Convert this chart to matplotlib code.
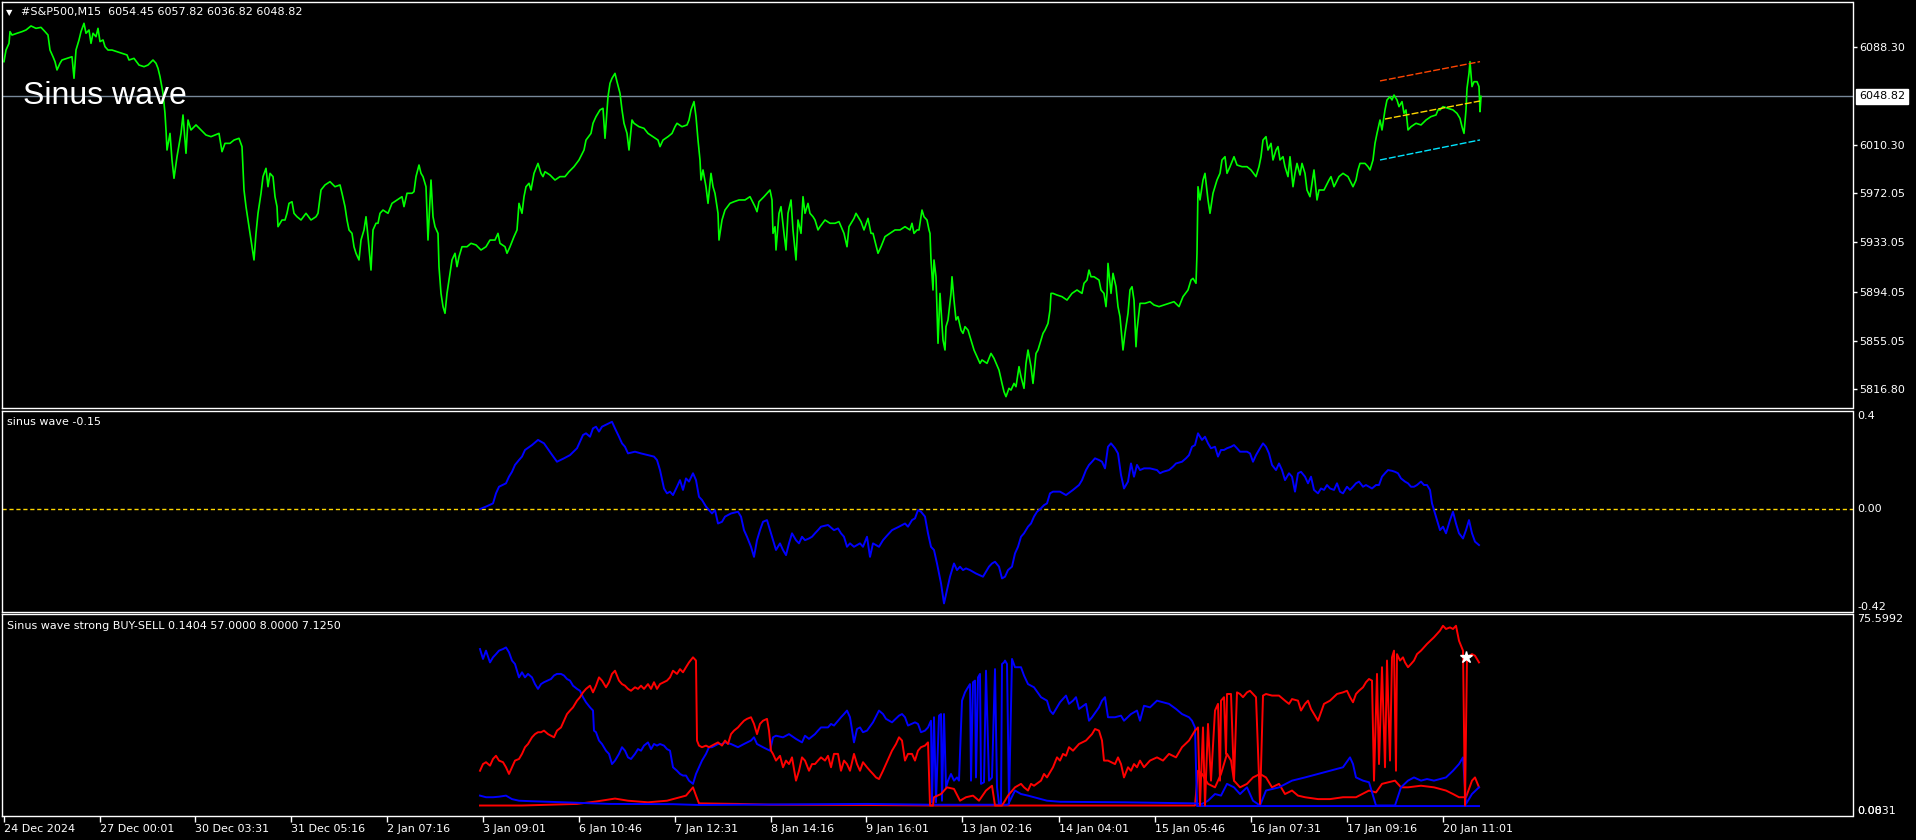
import matplotlib
matplotlib.use("Agg")
import matplotlib.pyplot as plt

W, H = 1916, 840

# ---- #S&P500 M15 closes: (bar, close), one bar per chart column ----
price_dec = [
    (4, 6076.4), (6, 6085.6), (9, 6090.9), (10, 6100.2), (12, 6097.5), (17, 6098.9), (22, 6100.2),
    (26, 6101.5), (31, 6104.7), (36, 6102.8), (41, 6103.6), (45, 6100.2), (48, 6097.5), (50, 6085.6),
    (53, 6080.3), (55, 6076.4), (57, 6069.8), (60, 6075.1), (62, 6077.7), (67, 6079.0), (72, 6080.3),
    (74, 6063.2), (76, 6085.6), (79, 6093.6), (81, 6100.2), (84, 6106.8), (86, 6098.9), (89, 6101.5),
    (91, 6090.9), (93, 6098.9), (96, 6096.2), (98, 6102.8), (100, 6092.3), (103, 6093.6), (105, 6088.3),
    (108, 6085.6), (112, 6085.6), (117, 6084.3), (122, 6083.0), (127, 6081.7), (129, 6077.7), (134, 6079.0),
    (139, 6073.7), (144, 6072.4), (148, 6073.7), (153, 6077.7), (156, 6075.1), (158, 6071.1), (160, 6064.5),
    (163, 6051.3), (165, 6035.4), (166, 6022.2), (167, 6006.3), (170, 6019.5), (172, 5998.4), (174, 5983.9),
    (177, 6001.0), (181, 6019.5), (183, 6034.1), (186, 6003.7), (188, 6030.1), (191, 6022.2), (196, 6026.2),
    (201, 6022.2), (206, 6018.2), (211, 6016.9), (215, 6018.2), (219, 6019.5), (222, 6005.0), (225, 6011.6),
    (230, 6011.6), (234, 6014.2), (239, 6015.6), (242, 6009.0), (244, 5974.6), (246, 5961.4), (249, 5945.5),
    (251, 5934.9), (254, 5919.1), (256, 5940.2), (258, 5956.1), (261, 5971.9), (263, 5985.2), (266, 5991.8),
    (268, 5977.2), (270, 5987.8), (273, 5985.2), (275, 5969.3), (277, 5961.4), (278, 5945.5), (282, 5950.8),
    (285, 5950.8), (287, 5956.1), (289, 5964.0), (292, 5965.3), (294, 5956.1), (297, 5953.4), (301, 5950.8),
    (306, 5956.1), (311, 5950.8), (316, 5953.4), (318, 5956.1), (321, 5974.6), (325, 5978.6), (330, 5981.2),
    (335, 5977.2), (340, 5978.6), (342, 5972.0), (345, 5961.4), (347, 5950.8), (349, 5942.9), (352, 5940.2),
    (354, 5929.6), (356, 5924.4), (359, 5919.1), (361, 5934.9), (364, 5942.9), (366, 5953.4), (368, 5937.6),
    (371, 5911.1), (373, 5942.9), (376, 5948.2), (378, 5948.2), (380, 5956.1), (383, 5958.7), (388, 5956.1),
    (392, 5964.0), (397, 5966.7), (402, 5969.3), (404, 5961.4), (407, 5972.0), (412, 5972.0), (414, 5973.3),
    (416, 5985.2), (419, 5994.4), (421, 5987.8), (423, 5985.2), (426, 5977.2), (428, 5934.9), (431, 5982.5),
    (433, 5953.4), (435, 5945.5), (438, 5940.2), (439, 5913.8), (441, 5892.6), (443, 5882.1), (445, 5876.8),
    (447, 5892.6), (450, 5908.5), (452, 5919.1), (455, 5924.4), (457, 5913.8), (459, 5921.7), (462, 5929.6),
    (467, 5929.6), (471, 5932.3), (476, 5931.0),
]
price_jan_a = [
    (481, 5927.0), (486, 5929.6), (490, 5934.9), (495, 5934.9), (498, 5940.2), (500, 5932.3), (505, 5929.6),
    (507, 5924.4), (510, 5929.6), (514, 5937.6), (517, 5942.9), (519, 5964.0), (522, 5956.1), (524, 5969.3),
    (526, 5977.2), (529, 5979.9), (531, 5974.6), (534, 5987.8), (536, 5991.8), (538, 5995.7), (541, 5987.8),
    (543, 5985.2), (545, 5989.1), (550, 5986.5), (555, 5982.5), (560, 5985.2), (565, 5985.2), (569, 5989.1),
    (574, 5993.1), (579, 5998.4), (584, 6006.3), (586, 6014.2), (591, 6019.5), (593, 6027.5), (596, 6032.8),
    (598, 6035.4), (600, 6038.1), (603, 6039.4), (605, 6015.6), (608, 6048.6), (610, 6059.2), (612, 6063.2),
    (615, 6067.1), (617, 6060.5), (620, 6051.3), (622, 6038.1), (624, 6027.5), (627, 6019.5), (629, 6006.3),
    (632, 6030.1), (634, 6027.5), (639, 6024.8), (644, 6023.5), (648, 6019.5), (653, 6016.9), (658, 6014.2),
    (660, 6009.0), (663, 6014.2), (668, 6016.9), (672, 6019.5), (675, 6024.8), (677, 6027.5), (682, 6024.8),
    (687, 6026.2), (689, 6030.1), (691, 6038.1), (694, 6044.7), (696, 6032.8), (698, 6014.2), (700, 5998.4),
    (701, 5982.5), (703, 5990.5), (706, 5977.2), (708, 5964.0), (711, 5987.8), (713, 5977.2), (715, 5971.9),
    (718, 5956.1), (719, 5934.9), (722, 5950.8), (725, 5958.7), (730, 5964.0), (734, 5965.3), (739, 5966.7),
    (745, 5966.7), (750, 5969.3), (755, 5961.4), (757, 5957.4), (759, 5965.3), (764, 5969.3), (767, 5972.0),
    (770, 5974.6), (772, 5966.7), (773, 5940.2), (775, 5945.5), (776, 5927.0), (779, 5956.1), (781, 5961.4),
    (784, 5940.2), (786, 5927.0), (788, 5956.1), (791, 5966.7), (793, 5942.9), (796, 5919.1), (798, 5950.8),
    (801, 5940.2), (803, 5969.3), (805, 5956.1), (808, 5964.0), (810, 5956.1), (813, 5953.4), (815, 5950.8),
    (818, 5942.9), (820, 5945.5), (825, 5950.8), (830, 5948.2), (835, 5948.2), (839, 5949.5), (844, 5940.2),
    (847, 5929.6), (849, 5945.5), (854, 5952.1), (856, 5956.1), (861, 5949.5), (864, 5942.9), (868, 5952.1),
    (871, 5940.2), (873, 5940.2), (878, 5924.4), (881, 5929.6), (885, 5937.6), (890, 5940.2), (895, 5942.9),
    (900, 5942.9), (905, 5945.5), (910, 5942.9), (912, 5948.2), (914, 5940.2), (917, 5942.9), (919, 5942.9),
    (922, 5958.7), (924, 5953.4), (927, 5950.8), (929, 5942.9), (930, 5940.2),
]
price_jan_b = [
    (931, 5919.1), (933, 5895.3), (934, 5919.1), (936, 5905.8), (938, 5853.0), (940, 5892.6), (943, 5855.6),
    (945, 5847.7), (946, 5866.2), (948, 5871.5), (951, 5892.6), (952, 5905.8), (954, 5887.3), (956, 5871.5),
    (958, 5874.1), (961, 5863.5), (963, 5860.9), (965, 5866.2), (968, 5863.5), (972, 5853.0), (974, 5847.7),
    (977, 5842.4), (980, 5837.1), (982, 5839.8), (987, 5837.1), (991, 5845.0), (994, 5841.1), (999, 5831.8),
    (1002, 5821.2), (1004, 5814.6), (1006, 5810.7), (1009, 5817.3), (1011, 5815.9), (1014, 5821.2),
    (1016, 5818.6), (1019, 5834.5), (1021, 5826.5), (1024, 5817.3), (1026, 5837.1), (1028, 5847.7),
    (1031, 5834.5), (1033, 5821.2), (1036, 5845.0), (1038, 5847.7), (1041, 5855.6), (1043, 5860.9),
    (1045, 5863.5), (1048, 5868.8), (1050, 5879.4), (1051, 5892.6), (1053, 5892.6), (1057, 5891.3),
    (1062, 5890.0), (1067, 5887.3), (1072, 5892.6), (1077, 5895.3), (1082, 5892.6), (1084, 5900.6),
    (1087, 5903.2), (1089, 5911.1), (1091, 5905.8), (1094, 5905.8), (1099, 5903.2), (1101, 5895.3),
    (1104, 5892.6), (1106, 5882.1), (1107, 5892.6), (1108, 5916.4), (1111, 5892.6), (1113, 5908.5),
    (1116, 5897.9), (1118, 5882.1), (1120, 5874.1), (1123, 5847.7), (1125, 5860.9), (1128, 5876.8),
    (1130, 5895.3), (1132, 5897.9), (1134, 5887.3), (1136, 5850.3), (1137, 5863.5), (1140, 5884.7),
    (1145, 5884.7), (1150, 5886.0), (1154, 5883.4), (1159, 5882.1), (1164, 5883.4), (1169, 5884.7),
    (1174, 5886.0), (1179, 5882.1), (1183, 5890.0), (1188, 5895.3), (1191, 5903.2), (1193, 5904.5),
    (1196, 5900.6), (1197, 5924.4),
]
price_jan_c = [
    (1198, 5977.2), (1200, 5966.7), (1203, 5982.5), (1205, 5987.8), (1208, 5966.7), (1210, 5956.1),
    (1213, 5972.0), (1217, 5982.5), (1220, 5987.8), (1222, 5998.4), (1225, 6001.0), (1227, 5987.8),
    (1230, 5993.1), (1234, 6001.0), (1237, 5994.4), (1242, 5993.1), (1247, 5993.1), (1251, 5990.5),
    (1256, 5985.2), (1259, 5993.1), (1261, 6001.0), (1263, 6014.2), (1266, 6016.9), (1268, 6006.3),
    (1271, 6011.6), (1273, 5998.4), (1276, 6006.3), (1278, 6009.0), (1280, 5998.4), (1283, 6001.0),
    (1285, 5993.1), (1288, 5985.2), (1290, 6001.0), (1293, 5977.2), (1295, 5987.8), (1297, 5995.7),
    (1300, 5986.5), (1302, 5995.7), (1305, 5987.8), (1307, 5974.6), (1310, 5969.3), (1312, 5979.9),
    (1314, 5990.5), (1317, 5966.7), (1319, 5974.6), (1324, 5974.6), (1329, 5982.5), (1331, 5985.2),
    (1334, 5977.2), (1339, 5985.2), (1343, 5987.8), (1348, 5985.2), (1353, 5977.2), (1356, 5982.5),
    (1358, 5990.5), (1360, 5995.7), (1365, 5995.7), (1368, 5993.1), (1370, 5990.5), (1373, 5998.4),
    (1375, 6011.6), (1377, 6019.5), (1380, 6030.1), (1382, 6022.2), (1385, 6038.1), (1387, 6046.0),
    (1390, 6048.6), (1392, 6046.0), (1394, 6049.9), (1397, 6046.0), (1399, 6040.7), (1402, 6044.7),
    (1404, 6035.4), (1406, 6038.1), (1408, 6022.2), (1411, 6024.8), (1416, 6027.5), (1421, 6026.2),
    (1426, 6030.1), (1431, 6032.8), (1436, 6034.1), (1438, 6038.1), (1440, 6038.1), (1443, 6040.7),
    (1448, 6039.4), (1453, 6038.1), (1457, 6035.4), (1460, 6031.4), (1462, 6024.8), (1464, 6019.5),
    (1466, 6038.1), (1467, 6055.2), (1469, 6067.1), (1470, 6076.4), (1472, 6056.6), (1474, 6060.5),
    (1477, 6060.5), (1479, 6056.6), (1480, 6036.7), (1481, 6048.8),
]

# regression channel on the last bars
channel_bars = [1380, 1480]
channel_upper = [6061.1, 6076.4]
channel_mid_bars = [1385, 1480]
channel_mid = [6030.9, 6045.2]
channel_lower = [5998.4, 6014.3]

current_price = 6048.82
price_ticks = [6088.30, 6010.30, 5972.05, 5933.05, 5894.05, 5855.05, 5816.80]
price_range = (5801.7, 6123.7)

# ---- "sinus wave" oscillator ----
sinus_a = [
    (480, 0.000), (486, 0.010), (493, 0.023), (496, 0.064), (499, 0.091), (506, 0.105), (509, 0.132),
    (512, 0.152), (515, 0.180), (519, 0.200), (522, 0.214), (525, 0.241), (532, 0.261), (538, 0.282),
    (544, 0.268), (551, 0.227), (557, 0.193), (564, 0.207), (570, 0.220), (577, 0.248), (580, 0.275),
    (583, 0.302), (586, 0.309), (590, 0.295), (593, 0.329), (596, 0.336), (599, 0.316), (602, 0.336),
    (609, 0.350), (612, 0.356), (615, 0.329), (619, 0.295), (622, 0.268), (625, 0.254), (628, 0.227),
    (635, 0.234), (641, 0.227), (648, 0.220), (654, 0.214), (657, 0.200), (660, 0.159), (664, 0.084),
    (667, 0.064), (670, 0.071), (673, 0.057), (677, 0.091), (680, 0.118), (683, 0.078), (686, 0.125),
    (689, 0.112), (693, 0.146), (696, 0.118), (699, 0.050), (702, 0.037), (706, 0.010), (709, -0.004),
    (712, -0.018), (715, -0.004), (718, -0.059), (722, -0.052), (725, -0.031), (731, -0.018), (738, -0.011),
    (741, -0.031), (744, -0.086), (747, -0.113), (751, -0.154), (754, -0.195), (757, -0.127), (760, -0.086),
    (763, -0.052), (767, -0.045), (770, -0.086), (773, -0.127), (776, -0.167), (780, -0.140), (783, -0.167),
    (786, -0.188), (789, -0.140), (792, -0.099), (796, -0.127), (799, -0.140), (802, -0.113), (805, -0.127),
    (809, -0.120), (812, -0.113), (815, -0.099), (818, -0.086), (821, -0.072), (828, -0.065), (834, -0.086),
    (838, -0.079), (841, -0.099), (844, -0.113), (847, -0.154), (850, -0.140), (854, -0.154), (860, -0.140),
    (863, -0.154), (867, -0.113), (870, -0.195), (873, -0.140), (879, -0.154), (883, -0.127), (886, -0.113),
    (892, -0.086), (899, -0.072), (905, -0.059), (908, -0.072), (912, -0.045), (915, -0.038), (918, -0.004),
    (921, -0.011), (925, -0.031), (928, -0.099),
]
sinus_b = [
    (931, -0.154), (934, -0.167), (937, -0.222), (941, -0.303), (944, -0.385), (947, -0.331), (950, -0.276),
    (954, -0.222), (957, -0.249), (960, -0.235), (963, -0.249), (966, -0.242), (970, -0.249), (976, -0.263),
    (983, -0.276), (989, -0.235), (992, -0.222), (995, -0.215), (999, -0.235), (1002, -0.283), (1005, -0.276),
    (1008, -0.249), (1012, -0.235), (1015, -0.181), (1018, -0.154), (1021, -0.113), (1024, -0.099),
    (1028, -0.072), (1031, -0.059), (1034, -0.031), (1037, -0.011), (1041, 0.003), (1044, 0.016),
    (1047, 0.023), (1050, 0.064), (1053, 0.071), (1060, 0.071), (1066, 0.057), (1073, 0.078), (1079, 0.098),
    (1082, 0.118), (1086, 0.159), (1089, 0.180), (1092, 0.193), (1095, 0.207), (1099, 0.200), (1102, 0.193),
    (1105, 0.166), (1108, 0.254), (1111, 0.268), (1115, 0.248), (1118, 0.227), (1121, 0.139), (1124, 0.084),
    (1128, 0.112), (1131, 0.186), (1134, 0.132), (1137, 0.180), (1140, 0.159), (1144, 0.166), (1150, 0.166),
    (1157, 0.159), (1160, 0.146), (1163, 0.152), (1169, 0.159), (1173, 0.173), (1176, 0.186), (1182, 0.193),
    (1186, 0.207), (1189, 0.220), (1192, 0.254), (1195, 0.261), (1198, 0.309), (1202, 0.282), (1205, 0.295),
    (1208, 0.268), (1211, 0.248), (1215, 0.254), (1218, 0.214), (1221, 0.241), (1224, 0.241), (1227, 0.248),
    (1231, 0.254), (1234, 0.261), (1237, 0.248), (1240, 0.234), (1247, 0.234), (1250, 0.227), (1253, 0.193),
    (1256, 0.220), (1260, 0.248), (1263, 0.268), (1266, 0.254), (1269, 0.227), (1272, 0.180), (1276, 0.159),
    (1279, 0.186), (1282, 0.159), (1285, 0.118), (1289, 0.146), (1292, 0.132), (1295, 0.071), (1298, 0.146),
    (1301, 0.152), (1305, 0.132), (1308, 0.105), (1311, 0.132), (1314, 0.078), (1318, 0.064), (1321, 0.084),
    (1324, 0.078), (1327, 0.098), (1330, 0.084), (1334, 0.078), (1337, 0.105), (1340, 0.071), (1343, 0.064),
    (1347, 0.091), (1350, 0.078), (1353, 0.091), (1356, 0.105), (1359, 0.112), (1363, 0.091), (1366, 0.098),
    (1369, 0.091), (1372, 0.084), (1376, 0.098), (1379, 0.098), (1382, 0.132), (1385, 0.146), (1388, 0.159),
    (1392, 0.156), (1395, 0.152), (1398, 0.146), (1401, 0.125), (1405, 0.112), (1408, 0.105), (1411, 0.091),
    (1414, 0.091), (1417, 0.098), (1421, 0.112), (1424, 0.098), (1427, 0.098), (1430, 0.078), (1432, 0.023),
    (1434, -0.004), (1437, -0.045), (1440, -0.086), (1443, -0.072), (1446, -0.099), (1450, -0.045),
    (1453, -0.011), (1456, -0.059), (1459, -0.099), (1463, -0.120), (1466, -0.086), (1469, -0.045),
    (1472, -0.099), (1475, -0.133), (1479, -0.147),
]
sinus_range = (-0.42, 0.4)

# ---- "Sinus wave strong BUY-SELL" buffers ----
bs_blue_hi = [
    (480, 62.5), (483, 58.8), (486, 61.9), (490, 57.5), (493, 59.4), (496, 60.6), (499, 61.9), (503, 62.5),
    (506, 63.1), (509, 61.3), (512, 58.2), (515, 56.9), (519, 51.9), (522, 53.8), (525, 51.9), (528, 53.2),
    (532, 51.9), (535, 49.4), (538, 47.6), (541, 49.4), (544, 50.1), (551, 51.3), (554, 52.6), (557, 53.2),
    (561, 53.2), (564, 52.6), (567, 51.3), (570, 50.7), (573, 48.8), (577, 47.6), (580, 46.9), (583, 44.5),
    (586, 42.6), (590, 40.7), (593, 39.5), (594, 32.0), (596, 31.4), (599, 28.3), (602, 27.0), (606, 24.5),
    (609, 23.3), (612, 19.5), (615, 20.8), (619, 23.3), (622, 25.8), (625, 24.5), (628, 22.0), (631, 21.4),
    (635, 23.3), (638, 25.1), (641, 24.5), (644, 26.4), (648, 27.6), (651, 25.1), (654, 27.0), (657, 26.4),
    (660, 27.0), (664, 26.4), (667, 25.1), (670, 24.5), (673, 18.3), (677, 17.0), (680, 15.8), (683, 15.2),
    (686, 15.2), (689, 13.3), (693, 12.1), (696, 15.8), (699, 18.3), (702, 20.8), (706, 23.3), (709, 25.8),
    (712, 25.8), (715, 26.4), (718, 27.0), (722, 27.0), (725, 27.6), (731, 27.0), (738, 25.8), (744, 27.0),
    (751, 28.3), (754, 29.5), (757, 27.0), (763, 25.8), (770, 24.5), (773, 29.5), (776, 30.1), (783, 29.5),
    (789, 30.7), (796, 28.9), (802, 27.6), (805, 30.1), (809, 28.9), (815, 30.7), (818, 32.0), (821, 33.2),
    (828, 33.2), (831, 34.5), (834, 33.9), (838, 35.7), (841, 37.0), (844, 38.2), (847, 39.5), (850, 37.0),
    (854, 27.6), (857, 32.6), (860, 33.2), (863, 31.4), (867, 32.0), (873, 35.1), (879, 39.5), (883, 38.2),
    (886, 36.4), (892, 35.1), (899, 37.6), (902, 38.2), (905, 37.0), (908, 33.9), (915, 35.1), (918, 34.5),
    (921, 31.4), (925, 32.0), (928, 33.2), (931, 35.7), (932, 5.2), (934, 37.0), (936, 5.2), (939, 37.6),
    (941, 38.2), (942, 5.8), (944, 38.2), (946, 10.8), (948, 13.3), (951, 15.8), (954, 13.3), (957, 14.5),
    (959, 13.3), (962, 43.2), (965, 46.3), (967, 47.6), (970, 49.4), (971, 13.3), (973, 50.1), (975, 50.7),
    (976, 14.5), (978, 51.9), (980, 53.2), (981, 12.1), (984, 12.7), (986, 54.4), (989, 13.3), (992, 14.5),
    (995, 55.0), (997, 10.8), (999, 4.6), (1001, 4.6), (1002, 56.9), (1004, 57.5), (1005, 58.2), (1007, 56.9),
    (1009, 4.6), (1012, 58.8), (1015, 55.7), (1021, 55.7), (1024, 52.6), (1028, 49.4), (1034, 48.2),
    (1041, 44.5), (1047, 43.2), (1050, 39.5), (1053, 38.2), (1060, 42.6), (1066, 45.1), (1069, 42.0),
    (1073, 43.2), (1076, 44.5), (1079, 40.1), (1086, 42.0), (1089, 35.7), (1092, 37.0), (1099, 40.7),
    (1102, 43.2), (1105, 44.5), (1108, 37.0), (1115, 37.0), (1121, 37.6), (1124, 35.7), (1131, 38.2),
    (1137, 39.5), (1140, 35.7), (1144, 41.3), (1150, 40.7), (1157, 43.2), (1163, 42.6), (1169, 42.0),
    (1176, 40.1), (1182, 38.2), (1189, 37.0), (1192, 35.7), (1195, 33.2), (1197, 3.8), (1479, 3.8),
]
bs_red_hi = [
    (480, 17.0), (483, 19.5), (486, 20.2), (490, 18.9), (493, 21.4), (496, 22.6), (499, 20.8), (503, 20.2),
    (506, 18.3), (509, 15.8), (512, 18.3), (515, 20.8), (519, 21.4), (522, 23.3), (525, 25.8), (528, 27.0),
    (532, 29.5), (535, 30.7), (538, 31.4), (541, 31.4), (544, 32.0), (548, 30.7), (551, 30.1), (554, 29.5),
    (557, 32.0), (561, 33.2), (564, 35.7), (567, 38.2), (570, 39.5), (573, 40.7), (577, 43.2), (580, 44.5),
    (583, 46.3), (586, 47.6), (590, 48.8), (593, 46.3), (596, 48.8), (599, 51.9), (602, 50.7), (606, 48.2),
    (609, 50.1), (612, 53.2), (615, 54.4), (619, 50.7), (622, 49.4), (625, 48.8), (628, 47.6), (631, 46.9),
    (635, 48.2), (638, 47.6), (641, 48.8), (644, 47.6), (648, 49.4), (651, 47.6), (654, 50.1), (657, 47.6),
    (660, 49.4), (667, 50.7), (670, 51.9), (673, 54.4), (677, 53.2), (680, 55.0), (683, 53.8), (686, 55.7),
    (689, 57.5), (693, 59.4), (696, 58.2), (697, 28.3), (699, 26.4), (702, 25.8), (706, 26.4), (709, 25.8),
    (712, 26.4), (715, 27.0), (718, 27.6), (722, 26.4), (725, 28.3), (728, 27.0), (731, 30.7), (734, 32.0),
    (738, 33.2), (741, 34.5), (744, 35.7), (747, 36.4), (751, 37.0), (754, 34.5), (757, 30.7), (760, 34.5),
    (763, 35.7), (767, 36.4), (769, 32.0), (771, 24.5), (773, 23.3), (776, 20.8), (780, 22.6), (783, 18.3),
    (786, 20.8), (789, 19.5), (792, 22.0), (796, 13.3), (799, 17.0), (802, 22.0), (805, 20.8), (809, 17.0),
    (812, 19.5), (815, 19.5), (818, 20.8), (821, 22.0), (825, 20.8), (828, 22.6), (831, 18.3), (834, 23.3),
    (838, 23.3), (841, 17.0), (844, 20.8), (847, 19.5), (850, 17.0), (854, 23.3), (857, 19.5), (860, 17.0),
    (863, 20.2), (867, 18.3), (870, 17.0), (873, 15.8), (876, 14.5), (879, 13.9), (883, 17.0), (886, 19.5),
    (889, 22.0), (892, 24.5), (896, 27.0), (899, 29.5), (902, 28.3), (905, 20.8), (908, 23.3), (912, 23.3),
    (915, 20.8), (918, 24.5), (921, 25.8), (925, 26.4), (928, 27.6), (930, 4.0), (933, 4.0), (934, 7.1),
    (941, 8.3), (947, 10.8), (954, 10.2), (960, 5.8), (966, 7.1), (973, 7.7), (979, 5.8), (986, 9.6),
    (992, 11.4), (995, 4.0), (1002, 4.0), (1005, 5.8), (1008, 7.7), (1015, 10.8), (1021, 12.1), (1024, 10.8),
    (1028, 9.6), (1031, 12.1), (1034, 11.4), (1041, 13.3), (1044, 15.8), (1047, 14.5), (1053, 18.3),
    (1057, 22.0), (1060, 20.8), (1063, 23.3), (1066, 22.6), (1069, 25.8), (1073, 24.5), (1079, 27.0),
    (1086, 28.3), (1089, 29.5), (1092, 30.7), (1095, 32.6), (1099, 32.0), (1102, 28.3), (1104, 20.8),
    (1108, 20.8), (1115, 19.5), (1118, 22.0), (1121, 19.5), (1124, 14.5), (1128, 18.3), (1131, 17.0),
    (1134, 19.5), (1137, 18.3), (1140, 20.8), (1144, 18.3), (1150, 20.8), (1157, 22.0), (1163, 20.8),
    (1169, 23.3), (1176, 22.0), (1182, 25.8), (1189, 28.3), (1195, 32.0), (1198, 33.2), (1200, 4.0),
    (1203, 33.2), (1205, 4.0), (1208, 34.5), (1211, 13.3), (1215, 39.5), (1218, 42.0), (1220, 13.3),
    (1221, 43.2), (1224, 44.5), (1226, 23.3), (1227, 45.7), (1231, 45.7), (1234, 13.3), (1237, 46.3),
    (1240, 45.7), (1243, 44.5), (1247, 46.3), (1250, 46.9), (1253, 45.7), (1256, 44.5), (1260, 4.6),
    (1263, 45.1), (1266, 45.7), (1272, 45.1), (1279, 45.1), (1285, 43.2), (1289, 42.0), (1292, 43.8),
    (1298, 43.2), (1301, 39.5), (1305, 42.0), (1308, 43.2), (1311, 40.1), (1314, 38.2), (1318, 35.7),
    (1321, 38.8), (1324, 42.0), (1330, 43.2), (1337, 45.7), (1343, 46.3), (1347, 46.9), (1350, 44.5),
    (1353, 42.6), (1356, 45.7), (1359, 46.9), (1363, 48.2), (1366, 50.1), (1369, 51.3), (1372, 50.7),
    (1374, 13.3), (1377, 53.2), (1379, 19.5), (1382, 55.7), (1385, 18.3), (1387, 58.2), (1390, 20.8),
    (1392, 59.4), (1394, 61.9), (1396, 17.0), (1397, 60.6), (1400, 58.2), (1403, 59.4), (1405, 57.5),
    (1408, 55.7), (1411, 56.9), (1414, 58.2), (1417, 60.6), (1421, 61.9), (1427, 64.4), (1434, 66.9),
    (1440, 69.4), (1443, 71.2), (1446, 70.0), (1450, 70.6), (1453, 70.0), (1456, 71.2), (1459, 65.6),
    (1463, 61.9), (1465, 4.0), (1467, 59.4), (1472, 60.6), (1475, 60.0), (1479, 57.5),
]
bs_red_lo = [
    (480, 4.0), (522, 4.0), (577, 4.6), (596, 5.5), (615, 6.6), (628, 5.8), (648, 5.2), (667, 5.8),
    (680, 7.1), (686, 7.7), (693, 10.8), (696, 7.7), (699, 4.8), (738, 4.6), (770, 4.3), (867, 4.2),
    (931, 4.0), (1195, 4.0), (1198, 17.0), (1202, 15.8), (1208, 12.1), (1215, 10.8), (1221, 15.8),
    (1227, 23.3), (1231, 20.8), (1234, 13.3), (1240, 10.8), (1247, 12.1), (1253, 14.5), (1260, 15.8),
    (1266, 14.5), (1272, 10.8), (1279, 12.1), (1285, 8.3), (1292, 9.6), (1298, 7.7), (1305, 7.1),
    (1318, 6.4), (1330, 6.4), (1343, 7.1), (1356, 7.1), (1369, 9.6), (1376, 8.9), (1382, 12.1),
    (1395, 13.3), (1401, 10.8), (1408, 10.8), (1421, 11.4), (1434, 10.8), (1446, 9.6), (1453, 8.3),
    (1459, 7.1), (1466, 7.1), (1472, 13.3), (1475, 14.5), (1479, 10.8),
]
bs_blue_lo = [
    (480, 7.7), (486, 7.1), (493, 7.1), (499, 7.3), (506, 7.7), (512, 6.4), (519, 5.8), (532, 5.6),
    (564, 5.2), (609, 4.6), (673, 4.5), (699, 4.2), (867, 4.6), (931, 4.3), (1008, 4.3), (1015, 9.6),
    (1021, 8.3), (1028, 7.7), (1034, 7.1), (1047, 5.8), (1060, 5.4), (1124, 5.2), (1195, 4.8), (1202, 4.6),
    (1208, 5.8), (1215, 8.3), (1221, 7.7), (1227, 12.1), (1234, 10.8), (1240, 8.3), (1247, 10.8),
    (1253, 5.8), (1260, 4.0), (1266, 9.6), (1279, 10.8), (1292, 13.3), (1305, 14.5), (1318, 15.8),
    (1330, 17.0), (1343, 18.3), (1350, 22.0), (1353, 19.5), (1356, 14.5), (1363, 13.3), (1369, 12.7),
    (1376, 4.0), (1395, 4.0), (1401, 10.8), (1408, 13.3), (1414, 14.5), (1421, 13.3), (1427, 13.9),
    (1434, 13.3), (1440, 13.9), (1446, 14.5), (1453, 17.0), (1459, 19.5), (1463, 22.0), (1466, 4.6),
    (1472, 8.3), (1479, 10.8),
]
bs_marker = (1466, 59.4)
bs_range = (0.0831, 75.5992)

date_ticks = [4, 100, 195, 291, 387, 483, 579, 675, 771, 866, 962, 1059, 1155, 1251, 1347, 1443]
date_labels = ["24 Dec 2024", "27 Dec 00:01", "30 Dec 03:31", "31 Dec 05:16", "2 Jan 07:16",
               "3 Jan 09:01", "6 Jan 10:46", "7 Jan 12:31", "8 Jan 14:16", "9 Jan 16:01",
               "13 Jan 02:16", "14 Jan 04:01", "15 Jan 05:46", "16 Jan 07:31", "17 Jan 09:16",
               "20 Jan 11:01"]


def unzip(pts):
    return [p[0] for p in pts], [p[1] for p in pts]


fig = plt.figure(figsize=(W / 100, H / 100), dpi=100, facecolor="black")


def panel(top, bottom):
    # one MT4 sub-window, placed by its pixel rows
    ax = fig.add_axes([2 / W, 1 - bottom / H, 1850.5 / W, (bottom - top) / H])
    ax.set_facecolor("black")
    for s in ax.spines.values():
        s.set_color("white")
        s.set_linewidth(1)
    ax.set_xlim(2, 1852.5)
    ax.set_xticks([])
    ax.set_yticks([])
    return ax


def side_label(ax, val, s, va):
    ax.annotate(s, xy=(1, val), xycoords=("axes fraction", "data"), xytext=(3.5, 0),
                textcoords="offset points", va=va, ha="left", fontsize=8, color="white")


def ftext(x, y, s, **kw):
    fig.text(x / W, 1 - y / H, s, **kw)


# price window
ax1 = panel(2, 408)
ax1.set_ylim(*price_range)
ax1.axhline(current_price, color="#778899", lw=1)
ax1.plot(*unzip(price_dec + price_jan_a + price_jan_b + price_jan_c), color="#00FF00", lw=1.2)
ax1.plot(channel_bars, channel_upper, color="#FF4500", lw=1, dashes=(5, 1.5))
ax1.plot(channel_mid_bars, channel_mid, color="#FFD700", lw=1, dashes=(5, 1.5))
ax1.plot(channel_bars, channel_lower, color="#00E5FF", lw=1, dashes=(5, 1.5))
ax1.yaxis.tick_right()
ax1.set_yticks(price_ticks)
ax1.set_yticklabels([f"{v:.2f}" for v in price_ticks])
ax1.tick_params(axis="y", colors="white", labelsize=8, length=3, width=1, pad=1.5)
ax1.annotate(f"{current_price:.2f}", xy=(1, current_price), xycoords=("axes fraction", "data"),
             xytext=(4.6, 0), textcoords="offset points", va="center", ha="left",
             fontsize=8, color="black",
             bbox=dict(boxstyle="square,pad=0.25", facecolor="white", edgecolor="white"))

# sinus wave window
ax2 = panel(411, 612)
ax2.set_ylim(*sinus_range)
ax2.axhline(0, color="#FFD700", lw=1, dashes=(3, 2))
ax2.plot(*unzip(sinus_a + sinus_b), color="#0000FF", lw=1.4)
side_label(ax2, 0.4, "0.4", "top")
side_label(ax2, 0.0, "0.00", "center")
side_label(ax2, -0.42, "-0.42", "bottom")

# strong BUY-SELL window
ax3 = panel(614, 816)
ax3.set_ylim(*bs_range)
ax3.plot(*unzip(bs_red_lo), color="#FF0000", lw=1.4)
ax3.plot(*unzip(bs_blue_lo), color="#0000FF", lw=1.4)
ax3.plot(*unzip(bs_blue_hi), color="#0000FF", lw=1.4)
ax3.plot(*unzip(bs_red_hi), color="#FF0000", lw=1.4)
ax3.plot([bs_marker[0]], [bs_marker[1]], marker="*", color="white", markersize=9, linestyle="none")
side_label(ax3, bs_range[1], "75.5992", "top")
# MT4 prints the level and the minimum on top of each other
side_label(ax3, bs_range[0], "0.00", "bottom")
side_label(ax3, bs_range[0], "0.0831", "bottom")

ax3.set_xticks(date_ticks)
ax3.set_xticklabels(date_labels, ha="left")
ax3.tick_params(axis="x", colors="white", labelsize=8, length=4, width=1, pad=1.5)

# window captions
ftext(6, 12.5, "\u25bc", color="white", fontsize=6, va="center")
ftext(21, 12.5, "#S&P500,M15  6054.45 6057.82 6036.82 6048.82", color="white", fontsize=8, va="center")
ftext(23, 103.5, "Sinus wave", color="white", fontsize=23, family="Liberation Sans", va="baseline")
ftext(7, 422, "sinus wave -0.15", color="white", fontsize=8, va="center")
ftext(7, 626, "Sinus wave strong BUY-SELL 0.1404 57.0000 8.0000 7.1250", color="white", fontsize=8,
      va="center")

fig.savefig("out.png", dpi=100, facecolor="black")
